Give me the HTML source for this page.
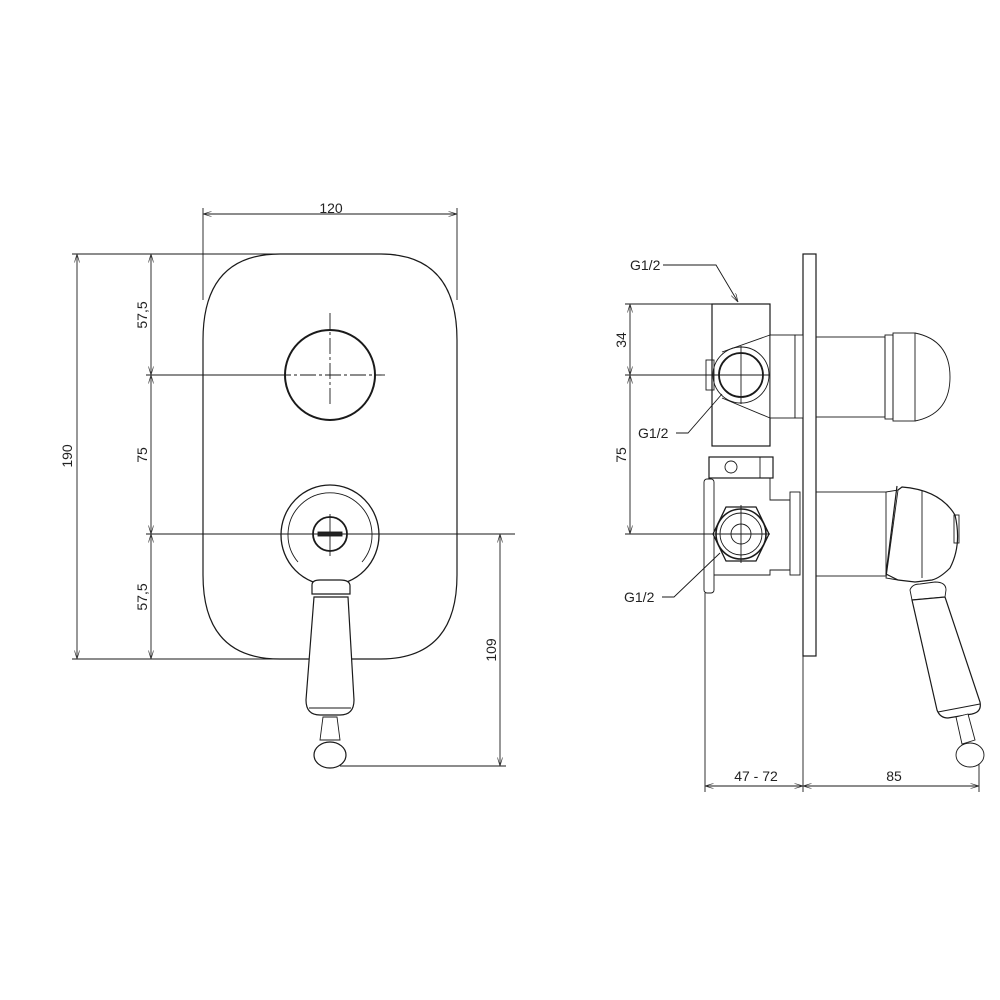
<!DOCTYPE html>
<html><head><meta charset="utf-8"><style>
html,body{margin:0;padding:0;background:#fff}
svg{display:block}
text{font-family:"Liberation Sans",sans-serif;font-size:14px;fill:#222}
</style></head><body>
<svg width="1000" height="1000" viewBox="0 0 1000 1000" xmlns="http://www.w3.org/2000/svg">
<defs>
<marker id="a" viewBox="0 0 10 6" refX="10" refY="3" markerWidth="10" markerHeight="6" orient="auto-start-reverse"><path d="M0,0 L10,3 L0,6" fill="none" stroke="#333" stroke-width="0.8"/></marker>
</defs>
<g stroke="#1a1a1a" fill="none" stroke-width="0.9">
<!-- LEFT dims -->
<line x1="203" y1="208" x2="203" y2="300"/>
<line x1="457" y1="208" x2="457" y2="300"/>
<line x1="203" y1="214" x2="457" y2="214" marker-start="url(#a)" marker-end="url(#a)"/>
<line x1="72" y1="254" x2="290" y2="254"/>
<line x1="72" y1="659" x2="290" y2="659"/>
<line x1="146" y1="375" x2="275" y2="375"/>
<line x1="146" y1="534" x2="515" y2="534"/>
<line x1="77" y1="254" x2="77" y2="659" marker-start="url(#a)" marker-end="url(#a)"/>
<line x1="151" y1="254" x2="151" y2="375" marker-start="url(#a)" marker-end="url(#a)"/>
<line x1="151" y1="375" x2="151" y2="534" marker-start="url(#a)" marker-end="url(#a)"/>
<line x1="151" y1="534" x2="151" y2="659" marker-start="url(#a)" marker-end="url(#a)"/>
<line x1="500" y1="534" x2="500" y2="766" marker-start="url(#a)" marker-end="url(#a)"/>
<line x1="340" y1="766" x2="506" y2="766"/>
<!-- plate -->
<path d="M280,254 L380,254 Q457,254 457,340 L457,575 Q457,659 380,659 L280,659 Q203,659 203,575 L203,340 Q203,254 280,254 Z" stroke-width="1.2"/>
<circle cx="330" cy="375" r="45" stroke-width="2"/>
<line x1="275" y1="375" x2="385" y2="375" stroke-dasharray="16,3,3,3"/>
<line x1="330" y1="313" x2="330" y2="406" stroke-dasharray="16,3,3,3"/>
<ellipse cx="330" cy="535" rx="49" ry="50" stroke-width="1.3"/>
<path d="M298,562 A42,42 0 1 1 362,562" />
<circle cx="330" cy="534" r="17" stroke-width="1.8"/>
<line x1="330" y1="514" x2="330" y2="556"/>
<rect x="318" y="532" width="24" height="4" fill="#222"/>
<path d="M312,585 Q312,580 320,580 L340,580 Q350,580 350,586 L350,594 L312,594 Z" fill="#fff" stroke-width="1.2"/>
<path d="M314,597 L348,597 L354,700 Q354,715 340,715 L320,715 Q306,715 306,700 Z" fill="#fff" stroke-width="1.2"/>
<line x1="309" y1="708" x2="351" y2="708"/>
<path d="M323,717 L337,717 L340,740 L320,740 Z" fill="#fff"/>
<ellipse cx="330" cy="755" rx="16" ry="13" fill="#fff" stroke-width="1.2"/>
<!-- RIGHT dims -->
<line x1="625" y1="304" x2="712" y2="304"/>
<line x1="625" y1="375" x2="712" y2="375"/>
<line x1="625" y1="534" x2="712" y2="534"/>
<line x1="630" y1="304" x2="630" y2="375" marker-start="url(#a)" marker-end="url(#a)"/>
<line x1="630" y1="375" x2="630" y2="534" marker-start="url(#a)" marker-end="url(#a)"/>
<line x1="705" y1="593" x2="705" y2="792"/>
<line x1="803" y1="656" x2="803" y2="792"/>
<line x1="979" y1="760" x2="979" y2="792"/>
<line x1="705" y1="786" x2="803" y2="786" marker-start="url(#a)" marker-end="url(#a)"/>
<line x1="803" y1="786" x2="979" y2="786" marker-start="url(#a)" marker-end="url(#a)"/>
<!-- leaders -->
<polyline points="663,265 716,265 738,302" marker-end="url(#a)"/>
<polyline points="676,433 688,433 722,394"/>
<polyline points="662,597 674,597 720,553"/>
<!-- plate side -->
<rect x="803" y="254" width="13" height="402" stroke-width="1.2"/>
<!-- upper body -->
<rect x="712" y="304" width="58" height="142" stroke-width="1.2"/>
<rect x="706" y="360" width="8" height="30"/>
<circle cx="741" cy="375" r="22" stroke-width="1.8"/>
<circle cx="741" cy="375" r="28"/>
<path d="M722,352 L770,335 M722,398 L770,418"/>
<rect x="770" y="335" width="25" height="83" fill="#fff"/>
<rect x="795" y="335" width="8" height="83" fill="#fff"/>
<rect x="816" y="337" width="69" height="80"/>
<rect x="885" y="335" width="8" height="84"/>
<rect x="893" y="333" width="22" height="88"/>
<path d="M915,333 Q950,340 950,377 Q950,414 915,421"/>
<!-- nut -->
<rect x="709" y="457" width="64" height="21" stroke-width="1.2"/>
<circle cx="731" cy="467" r="6"/>
<line x1="760" y1="457" x2="760" y2="478"/>
<!-- lower body -->
<rect x="704" y="479" width="10" height="114" rx="3"/>
<path d="M714,478 L770,478 L770,500 L790,500 L790,570 L770,570 L770,575 L714,575"/>
<rect x="790" y="492" width="10" height="83" fill="#fff"/>
<polygon points="713,534 726,507 756,507 769,534 756,561 726,561" stroke-width="1.3" fill="#fff"/>
<circle cx="741" cy="534" r="25" stroke-width="1.6"/>
<circle cx="741" cy="534" r="21"/>
<circle cx="741" cy="534" r="10"/>
<rect x="816" y="492" width="70" height="84"/>
<line x1="710" y1="375" x2="770" y2="375"/><line x1="741" y1="346" x2="741" y2="404"/>
<line x1="710" y1="534" x2="770" y2="534"/><line x1="741" y1="505" x2="741" y2="563"/>
<!-- lever -->
<path d="M886,492 L898,490 L886,578 L898,580"/>
<path d="M898,490 L902,487 Q940,490 955,515 Q962,545 950,568 Q940,578 932,580 L915,582 L898,580 L886,574 L897,486" stroke-width="1.2"/>
<line x1="922" y1="490" x2="922" y2="578"/>
<rect x="954" y="515" width="5" height="28"/>
<path d="M910,590 Q912,584 920,584 L935,582 Q946,582 946,590 L945,597 L912,600 Z" fill="#fff"/>
<path d="M912,600 L945,597 L980,702 Q982,712 972,714 L948,718 Q940,718 937,710 Z" fill="#fff" stroke-width="1.2"/>
<line x1="938" y1="712" x2="980" y2="704"/>
<path d="M956,717 L968,714 L975,740 L962,744 Z" fill="#fff"/>
<ellipse cx="970" cy="755" rx="14" ry="12" fill="#fff"/>
</g>
<text x="331" y="213" text-anchor="middle">120</text>
<text transform="translate(72,456) rotate(-90)" text-anchor="middle">190</text>
<text transform="translate(147,315) rotate(-90)" text-anchor="middle">57,5</text>
<text transform="translate(147,455) rotate(-90)" text-anchor="middle">75</text>
<text transform="translate(147,597) rotate(-90)" text-anchor="middle">57,5</text>
<text transform="translate(496,650) rotate(-90)" text-anchor="middle">109</text>
<text x="630" y="270">G1/2</text>
<text x="638" y="438">G1/2</text>
<text x="624" y="602">G1/2</text>
<text transform="translate(626,340) rotate(-90)" text-anchor="middle">34</text>
<text transform="translate(626,455) rotate(-90)" text-anchor="middle">75</text>
<text x="756" y="781" text-anchor="middle">47 - 72</text>
<text x="894" y="781" text-anchor="middle">85</text>
</svg>
</body></html>
